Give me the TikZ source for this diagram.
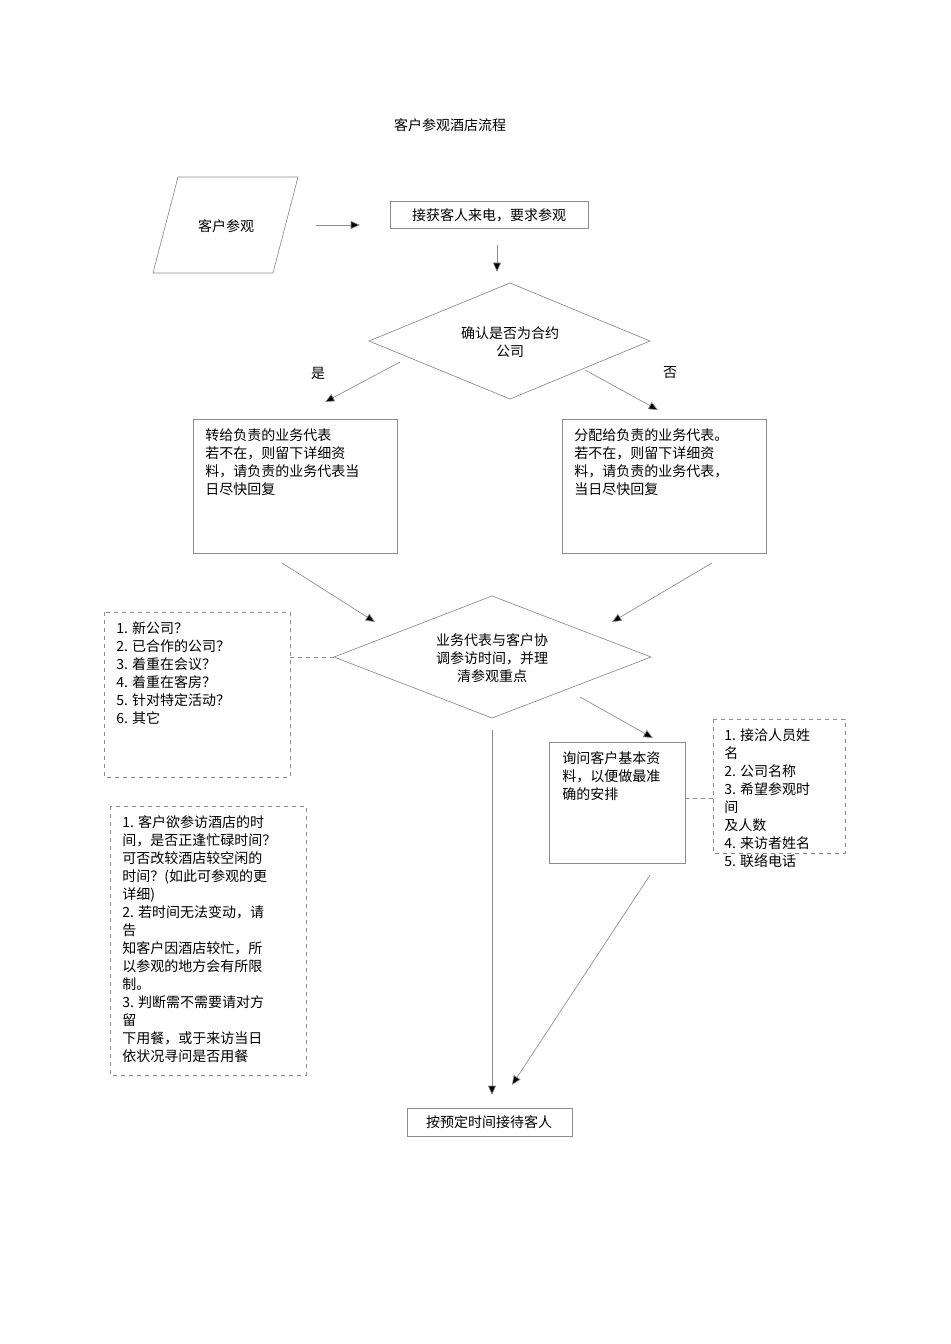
\documentclass[tikz,border=0pt]{standalone}
\usepackage{fontspec}
\setmainfont{Liberation Serif}
\newfontfamily\cjk{Noto Sans CJK SC}
\usetikzlibrary{arrows.meta}
\begin{document}
\begin{tikzpicture}[x=0.75pt,y=-0.75pt,
  ln/.style={draw=black!45,line width=0.5pt},
  arr/.style={ln,-{Triangle[width=6pt,length=7pt,fill=black]}},
  dsh/.style={draw=black!45,dashed,line width=0.5pt},
  txt/.style={font=\cjk\fontsize{10.5}{13.5}\selectfont,inner sep=0pt,align=left,anchor=north west},
  ctx/.style={font=\cjk\fontsize{10.5}{13.5}\selectfont,inner sep=0pt,align=center}]
\useasboundingbox (0,0) rectangle (950,1344);
\node[ctx] (title) at (450,125) {客户参观酒店流程};
\draw[ln] (178,177)--(298,177)--(273,273)--(153,273)--cycle;
\node[ctx] (p) at (226,226) {客户参观};
\coordinate (pa) at (316,225); \coordinate (pb) at (360,225);
\draw[arr] (pa)--(pb);
\draw[ln] (390,201) rectangle (588,228);
\node[ctx] (b1) at (489,215) {接获客人来电，要求参观};
\coordinate (a1) at (497,245); \coordinate (a2) at (497,272);
\draw[arr] (a1)--(a2);
\draw[ln] (510,283)--(650,341)--(510,399)--(369,341)--cycle;
\node[ctx] (d1) at (510,342) {确认是否为合约\\公司};
\node[ctx] (yes) at (318,373) {是};
\node[ctx] (no) at (670,373) {否};
\coordinate (y1) at (400,362); \coordinate (y2) at (325,402);
\draw[arr] (y1)--(y2);
\coordinate (n1) at (585,370); \coordinate (n2) at (658,410);
\draw[arr] (n1)--(n2);
\draw[ln] (193,419) rectangle (397,553);
\node[txt] (lb) at (205,428) {转给负责的业务代表\\若不在，则留下详细资\\料，请负责的业务代表当\\日尽快回复};
\draw[ln] (562,419) rectangle (766,553);
\node[txt] (rb) at (574,428) {分配给负责的业务代表。\\若不在，则留下详细资\\料，请负责的业务代表，\\当日尽快回复};
\coordinate (l1) at (282,563); \coordinate (l2) at (375,622);
\draw[arr] (l1)--(l2);
\coordinate (r1) at (712,563); \coordinate (r2) at (612,622);
\draw[arr] (r1)--(r2);
\draw[ln] (492,596)--(651,657)--(492,718)--(334,657)--cycle;
\node[ctx] (d2) at (492,658) {业务代表与客户协\\调参访时间，并理\\清参观重点};
\draw[dsh] (104,612) rectangle (290,777);
\node[txt] (list1) at (116,621) {1. 新公司？\\2. 已合作的公司？\\3. 着重在会议？\\4. 着重在客房？\\5. 针对特定活动？\\6. 其它};
\draw[dsh] (290,657)--(334,657);
\coordinate (q1) at (580,697); \coordinate (q2) at (653,738);
\draw[arr] (q1)--(q2);
\draw[ln] (549,742) rectangle (685,863);
\node[txt] (ask) at (562,751) {询问客户基本资\\料，以便做最准\\确的安排};
\draw[dsh] (713,719) rectangle (845,853);
\draw[dsh] (685,798)--(713,798);
\node[txt] (list2) at (724,728) {1. 接洽人员姓\\名\\2. 公司名称\\3. 希望参观时\\间\\及人数\\4. 来访者姓名\\5. 联络电话};
\draw[dsh] (110,806) rectangle (306,1075);
\node[txt] (list3) at (122,815) {1. 客户欲参访酒店的时\\间，是否正逢忙碌时间？\\可否改较酒店较空闲的\\时间？(如此可参观的更\\详细)\\2. 若时间无法变动，请\\告\\知客户因酒店较忙，所\\以参观的地方会有所限\\制。\\3. 判断需不需要请对方\\留\\下用餐，或于来访当日\\依状况寻问是否用餐};
\draw[ln] (407,1108) rectangle (572,1136);
\node[ctx] (end) at (489,1122) {按预定时间接待客人};
\coordinate (v1) at (492,730); \coordinate (v2) at (492,1095);
\draw[arr] (v1)--(v2);
\coordinate (w1) at (650,875); \coordinate (w2) at (512,1085);
\draw[arr] (w1)--(w2);
\end{tikzpicture}
\end{document}
